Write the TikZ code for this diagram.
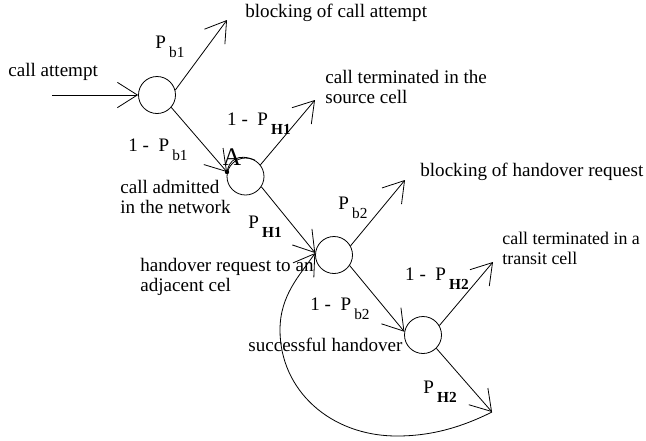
\documentclass[tikz,border=0pt]{standalone}
\usepackage{fontspec}
\setmainfont{Liberation Serif}
\usetikzlibrary{arrows.meta}
\newcommand{\sbs}[1]{\raisebox{-1ex}{\fontsize{11.5}{11.5}\selectfont #1}}
\newcommand{\prob}[1]{P\,\sbs{#1}}
\begin{document}
\begin{tikzpicture}[x=0.75pt,y=-0.75pt,line width=0.6pt,
  cell/.style={draw,circle,minimum size=27.75pt,inner sep=0pt},
  flow/.style={-{Straight Barb[length=15pt,width=19pt]}},
  txt/.style={anchor=west,align=left,inner sep=0pt,font=\fontsize{14.3}{15.5}\selectfont},
  lbl/.style={inner sep=0pt,font=\fontsize{14.3}{15.5}\selectfont}]
  \useasboundingbox (0,0) rectangle (646,440);
  % cells
  \node[cell] (c1) at (157,95) {};
  \node[cell] (c2) at (245.5,176.5) {};
  \node[cell] (c3) at (334,255) {};
  \node[cell] (c4) at (423,335) {};
  % free ends
  \coordinate (in) at (52,95);
  \coordinate (t1) at (227,20);
  \coordinate (a) at (227,172);
  \coordinate (t2) at (315,100);
  \coordinate (t3) at (405,180);
  \coordinate (t4) at (493,262);
  \coordinate (t5) at (492,412);

  % DRAW FLOWS
  \draw[flow] (in) -- (c1);
  \draw[flow] (c1.15) -- (t1);
  \draw[flow] (c1.-41) -- (a);
  \fill (a) circle (2.2);
  \draw (a) .. controls (229,160) and (238,153) .. (c2.60);
  \draw[flow] (c2.38) -- (t2);
  \draw[flow] (c2.-33) -- (c3.174);
  \draw[flow] (c3.29) -- (t3);
  \draw[flow] (c3.-34) -- (c4.170);
  \draw[flow] (c4.30) -- (t4);
  \draw[flow] (c4.-45) -- (t5);
  \draw[flow] (t5) .. controls (460,428) and (430,436) .. (397,436)
    .. controls (330,436) and (280,390) .. (280,330)
    .. controls (280,295) and (300,275) .. (c3.174);

  % DRAW LABELS
  \node[lbl] (pb1) at (170,47) {\prob{b1}};
  \node[lbl] (qb1) at (158,150) {1 -\ \ \prob{b1}};
  \node[lbl] (qh1) at (259,124) {1 -\ \ \prob{\textbf{H1}}};
  \node[lbl] (ph1) at (265,227) {\prob{\textbf{H1}}};
  \node[lbl] (pb2) at (353,208) {\prob{b2}};
  \node[lbl] (qb2) at (340,309) {1 -\ \ \prob{b2}};
  \node[lbl] (qh2) at (437,279) {1 -\ \ \prob{\textbf{H2}}};
  \node[lbl] (ph2) at (440,392) {\prob{\textbf{H2}}};
  \node[inner sep=0pt,font=\fontsize{19}{19}\selectfont] (alab) at (232,157) {A};

  % DRAW TEXTS
  \node[txt] (s0) at (8,72) {call attempt};
  \node[txt] (s1) at (245,13) {blocking of call attempt};
  \node[txt] (s2) at (325,87) {call terminated in the\\source cell};
  \node[txt] (s3) at (120,197) {call admitted\\in the network};
  \node[txt] (s4) at (420,172) {blocking of handover request};
  \node[txt] (s5) at (140,277) {handover request to an\\adjacent cel};
  \node[txt,font=\fontsize{13.4}{15}\selectfont] (s6) at (502,248) {call terminated in a\\transit cell};
  \node[txt] (s7) at (248,345) {successful handover};
\end{tikzpicture}
\end{document}
